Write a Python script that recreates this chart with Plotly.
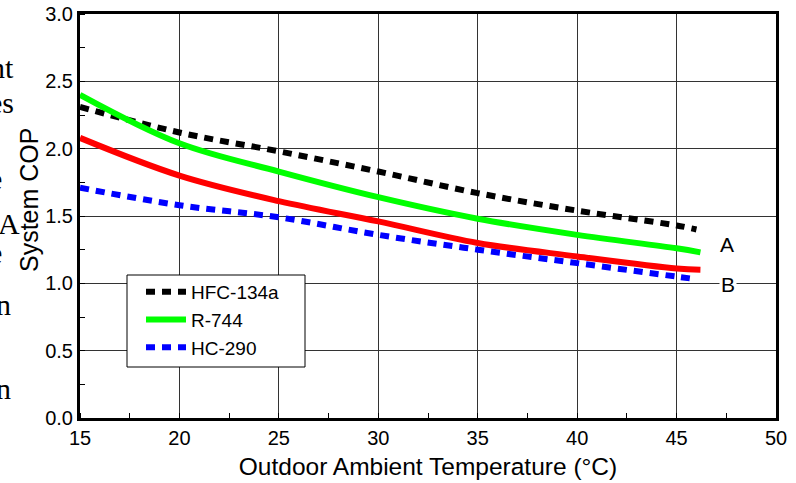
import plotly.graph_objects as go

# Data
temp = [15, 20, 25, 30, 35, 40, 45]
hfc134a_x = temp + [46]
hfc134a_y = [2.31, 2.12, 1.98, 1.83, 1.67, 1.54, 1.43, 1.40]
r744_x = temp + [46.2]
r744_y = [2.40, 2.04, 1.83, 1.64, 1.48, 1.36, 1.26, 1.23]
red_x = temp + [46.2]
red_y = [2.08, 1.80, 1.61, 1.46, 1.30, 1.20, 1.11, 1.10]
hc290_x = temp + [46]
hc290_y = [1.71, 1.58, 1.49, 1.36, 1.25, 1.15, 1.05, 1.03]

x_ticks = [15, 20, 25, 30, 35, 40, 45, 50]
y_ticks = [0.0, 0.5, 1.0, 1.5, 2.0, 2.5, 3.0]
y_tick_text = ["0.0", "0.5", "1.0", "1.5", "2.0", "2.5", "3.0"]

W, H = 796, 483
L, R, T, B = 80, 20, 14, 65
PW, PH = W - L - R, H - T - B

def px(x):
    return (x - L) / PW

def py(y):
    return (H - B - y) / PH

fig = go.Figure()
fig.add_trace(go.Scatter(x=hfc134a_x, y=hfc134a_y, mode="lines", name="HFC-134a",
                         line=dict(color="black", width=6, dash="9px,7px", shape="spline")))
fig.add_trace(go.Scatter(x=r744_x, y=r744_y, mode="lines", name="R-744",
                         line=dict(color="#00ff00", width=6, shape="spline")))
fig.add_trace(go.Scatter(x=red_x, y=red_y, mode="lines", name="red", showlegend=False,
                         line=dict(color="#ff0000", width=6, shape="spline")))
fig.add_trace(go.Scatter(x=hc290_x, y=hc290_y, mode="lines", name="HC-290",
                         line=dict(color="#0000ff", width=6, dash="9px,7px", shape="spline")))

font = "Liberation Sans, Arial, sans-serif"
axis_common = dict(showline=True, linecolor="black", linewidth=3, mirror=True,
                   showgrid=True, gridcolor="#333333", gridwidth=1, zeroline=False,
                   automargin=False,
                   ticks="", tickfont=dict(family=font, size=20, color="black"))

fig.update_xaxes(range=[15, 50], tickvals=x_ticks,
                 title=dict(text="Outdoor Ambient Temperature (°C)",
                            font=dict(family=font, size=24.5, color="black"), standoff=10),
                 minor=dict(dtick=2.5, tick0=15, ticks="inside", ticklen=5, tickcolor="black",
                            showgrid=False),
                 **axis_common)
fig.update_yaxes(range=[0, 3], tickvals=y_ticks, ticktext=y_tick_text,
                 minor=dict(dtick=0.25, tick0=0, ticks="inside", ticklen=5, tickcolor="black",
                            showgrid=False),
                 **axis_common)

annotations = [
    dict(x=px(29), y=py(200), xref="paper", yref="paper", text="System COP", textangle=-90,
         showarrow=False, xanchor="center", yanchor="middle",
         font=dict(family=font, size=25, color="black")),
    dict(x=47.55, y=1.29, xref="x", yref="y", text="A", showarrow=False,
         font=dict(family=font, size=21, color="black")),
    dict(x=47.6, y=0.995, xref="x", yref="y", text="B", showarrow=False, bgcolor="white",
         font=dict(family=font, size=21, color="black")),
]
# background page text fragments at left edge
serif = "Liberation Serif, Times New Roman, serif"
frags = [("nt", 16, 67), ("es", 16, 103), ("e", 4, 178), ("A", 22, 223),
         ("e", 4, 252), ("n", 13, 304), ("n", 13, 388)]
for t, xr, yc in frags:
    annotations.append(dict(x=px(xr), y=py(yc), xref="paper", yref="paper", text=t,
                            showarrow=False, xanchor="right", yanchor="middle",
                            font=dict(family=serif, size=30, color="black")))

fig.update_layout(
    width=W, height=H,
    margin=dict(l=L, r=R, t=T, b=B, autoexpand=False),
    plot_bgcolor="white", paper_bgcolor="white",
    annotations=annotations,
    shapes=[dict(type="rect", xref="paper", yref="paper",
                 x0=px(127), x1=px(305), y0=py(367), y1=py(275),
                 line=dict(color="black", width=1), fillcolor="white", layer="above")],
    legend=dict(x=px(141), y=py(273), xanchor="left", yanchor="top",
                bgcolor="rgba(0,0,0,0)", borderwidth=0,
                font=dict(family=font, size=19, color="black"),
                itemwidth=40, tracegroupgap=0),
    showlegend=True,
)

fig.write_html("out.html")
